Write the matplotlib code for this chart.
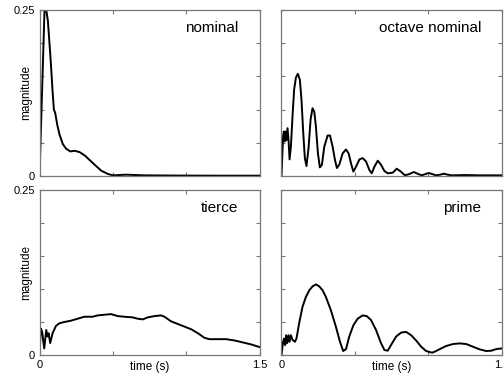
import matplotlib
matplotlib.use("Agg")
import matplotlib.pyplot as plt
import numpy as np

plt.rcParams['font.family'] = ['Liberation Sans', 'DejaVu Sans']

# envelopes (time in s, magnitude)
nominal_t = [0, 0.034, 0.043, 0.057, 0.075, 0.089, 0.098, 0.107, 0.121, 0.137, 0.159, 0.182,
             0.21, 0.239, 0.273, 0.308, 0.342, 0.376, 0.421, 0.467, 0.501, 0.547, 0.592,
             0.649, 0.718, 0.85, 1.0, 1.2, 1.5]
nominal_v = [0, 0.249, 0.254, 0.234, 0.178, 0.128, 0.100, 0.095, 0.077, 0.062, 0.048, 0.041,
             0.037, 0.038, 0.036, 0.031, 0.024, 0.017, 0.008, 0.003, 0.001, 0.0015, 0.002,
             0.0015, 0.001, 0.0008, 0.0006, 0.0005, 0.0005]

octave_t = [0, 0.011, 0.016, 0.023, 0.030, 0.034, 0.041, 0.048, 0.055, 0.064, 0.075, 0.086,
            0.098, 0.111, 0.125, 0.136, 0.148, 0.159, 0.170, 0.184, 0.198, 0.211, 0.223,
            0.234, 0.248, 0.261, 0.275, 0.291, 0.314, 0.330, 0.348, 0.364, 0.377, 0.393,
            0.416, 0.439, 0.457, 0.473, 0.489, 0.507, 0.530, 0.552, 0.575, 0.598, 0.614,
            0.632, 0.655, 0.677, 0.700, 0.723, 0.757, 0.784, 0.81, 0.84, 0.87, 0.90, 0.93,
            0.955, 0.98, 1.002, 1.025, 1.05, 1.08, 1.104, 1.13, 1.16, 1.25, 1.35, 1.5]
octave_v = [0, 0.060, 0.067, 0.052, 0.067, 0.054, 0.072, 0.054, 0.025, 0.044, 0.090, 0.130,
            0.148, 0.154, 0.145, 0.115, 0.065, 0.027, 0.015, 0.042, 0.085, 0.102, 0.097,
            0.075, 0.034, 0.013, 0.017, 0.044, 0.061, 0.061, 0.044, 0.024, 0.012, 0.017,
            0.034, 0.040, 0.034, 0.019, 0.0066, 0.014, 0.025, 0.027, 0.022, 0.009, 0.004,
            0.014, 0.023, 0.017, 0.0076, 0.004, 0.005, 0.011, 0.007, 0.001, 0.003, 0.006, 0.003,
            0.001, 0.003, 0.0045, 0.003, 0.001, 0.002, 0.0035, 0.002, 0.001, 0.0015, 0.001, 0.001]

tierce_t = [0, 0.009, 0.018, 0.032, 0.046, 0.055, 0.062, 0.073, 0.089, 0.112, 0.134, 0.169,
            0.214, 0.26, 0.305, 0.362, 0.396, 0.442, 0.487, 0.533, 0.578, 0.636, 0.67, 0.704,
            0.738, 0.784, 0.829, 0.852, 0.897, 0.966, 1.034, 1.08, 1.125, 1.159, 1.216, 1.273,
            1.33, 1.387, 1.444, 1.5]
tierce_v = [0, 0.040, 0.035, 0.010, 0.038, 0.028, 0.033, 0.018, 0.033, 0.044, 0.048, 0.050,
            0.052, 0.055, 0.058, 0.058, 0.060, 0.061, 0.062, 0.059, 0.058, 0.057, 0.055, 0.054,
            0.057, 0.059, 0.060, 0.058, 0.051, 0.045, 0.039, 0.033, 0.026, 0.024, 0.024, 0.024,
            0.022, 0.019, 0.016, 0.012]

prime_t = [0, 0.011, 0.018, 0.025, 0.032, 0.039, 0.048, 0.055, 0.064, 0.075, 0.091, 0.102,
           0.120, 0.143, 0.166, 0.189, 0.211, 0.234, 0.257, 0.280, 0.302, 0.336, 0.370,
           0.398, 0.420, 0.439, 0.461, 0.489, 0.518, 0.552, 0.580, 0.609, 0.643, 0.677,
           0.700, 0.723, 0.745, 0.780, 0.814, 0.848, 0.882, 0.916, 0.950, 0.984, 1.025,
           1.052, 1.086, 1.120, 1.166, 1.211, 1.257, 1.302, 1.348, 1.393, 1.427, 1.461, 1.5]
prime_v = [0, 0.020, 0.025, 0.015, 0.030, 0.018, 0.030, 0.020, 0.030, 0.023, 0.020, 0.025,
           0.048, 0.073, 0.088, 0.098, 0.104, 0.107, 0.104, 0.098, 0.088, 0.068, 0.043,
           0.020, 0.006, 0.009, 0.028, 0.045, 0.055, 0.060, 0.059, 0.053, 0.038, 0.018,
           0.0076, 0.0065, 0.015, 0.028, 0.034, 0.035, 0.030, 0.022, 0.0126, 0.006, 0.0035,
           0.006, 0.010, 0.0136, 0.0166, 0.0176, 0.0166, 0.0126, 0.0086, 0.006, 0.0065, 0.009, 0.010]

titles = ["nominal", "octave nominal", "tierce", "prime"]
series = [(nominal_t, nominal_v), (octave_t, octave_v), (tierce_t, tierce_v), (prime_t, prime_v)]

# axes boxes in figure fractions (left, bottom, width, height)
boxes = [
    [0.0784, 0.5294, 0.4365, 0.4439],
    [0.5585, 0.5294, 0.4375, 0.4439],
    [0.0784, 0.0508, 0.4365, 0.4410],
    [0.5585, 0.0508, 0.4375, 0.4410],
]

fig = plt.figure(figsize=(5.04, 3.74), dpi=100)

for i, (box, title, (t, v)) in enumerate(zip(boxes, titles, series)):
    ax = fig.add_axes(box)
    ax.plot(t, v, color='black', lw=1.4, solid_joinstyle='round')
    ax.set_xlim(0, 1.5)
    ax.set_ylim(0, 0.25)
    ax.set_xticks([0, 0.5, 1.0, 1.5])
    ax.set_yticks([0, 0.05, 0.1, 0.15, 0.2, 0.25])
    ax.tick_params(direction='in', length=3, width=0.8, color='#777777',
                   top=True, right=True, labelsize=8, pad=3.5)
    for sp in ax.spines.values():
        sp.set_color('#777777')
        sp.set_linewidth(0.9)
    ax.text(0.905, 0.89, title, transform=ax.transAxes, ha='right', va='center', fontsize=11)

    if i % 2 == 0:
        ax.set_yticklabels(['0', '', '', '', '', '0.25'])
        ax.set_ylabel('magnitude', fontsize=8.5)
        ax.yaxis.set_label_coords(-0.034, 0.5)
    else:
        ax.set_yticklabels([])
    if i >= 2:
        ax.set_xticklabels(['0', '', '', '1.5'])
        ax.set_xlabel('time (s)', fontsize=8.5)
        ax.xaxis.set_label_coords(0.5, -0.036)
    else:
        ax.set_xticklabels([])

fig.savefig('out.png', dpi=100)
